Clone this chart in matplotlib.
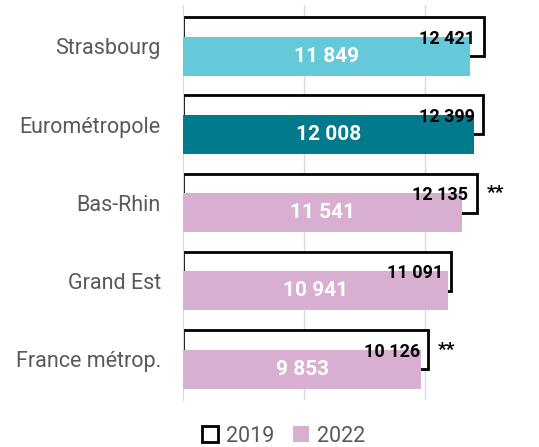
import numpy as np
import matplotlib.pyplot as plt
from matplotlib.patches import Patch

plt.rcParams['font.family'] = ['Roboto', 'DejaVu Sans']

categories = ['Strasbourg', 'Eurométropole', 'Bas-Rhin', 'Grand Est', 'France métrop.']
values_2019 = [12421, 12399, 12135, 11091, 10126]
values_2022 = [11849, 12008, 11541, 10941, 9853]
colors_2022 = ['#66C9D9', '#007A8C', '#D8AFD1', '#D8AFD1', '#D8AFD1']
stars = ['', '', '**', '', '**']


def fmt(v):
    return f'{v:,}'.replace(',', ' ')


fig = plt.figure(figsize=(5.39, 4.47), dpi=100)
ax = fig.add_axes([183 / 539, 47 / 447, 356 / 539, 395 / 447])

y = np.arange(len(categories))
off = 0.125
h = 0.5

ax.barh(y - off, values_2019, height=h, color='white', edgecolor='black', linewidth=2, zorder=2)
ax.barh(y + off, values_2022, height=h, color=colors_2022, edgecolor='none', zorder=3)

for i in range(len(categories)):
    ax.annotate(fmt(values_2019[i]), (values_2019[i], y[i] - off), xytext=(-6, -1.5),
                textcoords='offset points', ha='right', va='center',
                fontsize=13, fontweight='bold', color='black', zorder=5)
    ax.text(values_2022[i] / 2, y[i] + off, fmt(values_2022[i]), ha='center', va='center',
            fontsize=15, fontweight='bold', color='white', zorder=5)
    if stars[i]:
        ax.annotate(stars[i], (values_2019[i], y[i] - off), xytext=(7, 0),
                    textcoords='offset points', ha='left', va='center',
                    fontsize=14, fontweight='bold', color='black')

ax.set_xlim(0, 14711)
ax.set_ylim(4.52, -0.53)
ax.set_xticks([5000, 10000])
ax.set_xticklabels([])
ax.tick_params(axis='x', length=0)
ax.grid(axis='x', color='#D9D9D9', linewidth=1, zorder=0)
ax.set_axisbelow(True)
ax.set_yticks(y)
ax.set_yticklabels(categories, fontsize=15.5, color='#595959')
ax.tick_params(axis='y', length=0, pad=16)
for s in ['top', 'right', 'bottom']:
    ax.spines[s].set_visible(False)
ax.spines['left'].set_color('#D9D9D9')

handles = [Patch(facecolor='white', edgecolor='black', linewidth=2),
           Patch(facecolor='#D8AFD1', edgecolor='none')]
leg = fig.legend(handles, ['2019', '2022'], loc='center', bbox_to_anchor=(0.526, 0.024),
                 ncol=2, frameon=False, fontsize=15.5, handlelength=0.75, handleheight=0.75,
                 handletextpad=0.35, columnspacing=0.9, borderaxespad=0)
for t in leg.get_texts():
    t.set_color('#595959')

fig.savefig('out.png', dpi=100)
